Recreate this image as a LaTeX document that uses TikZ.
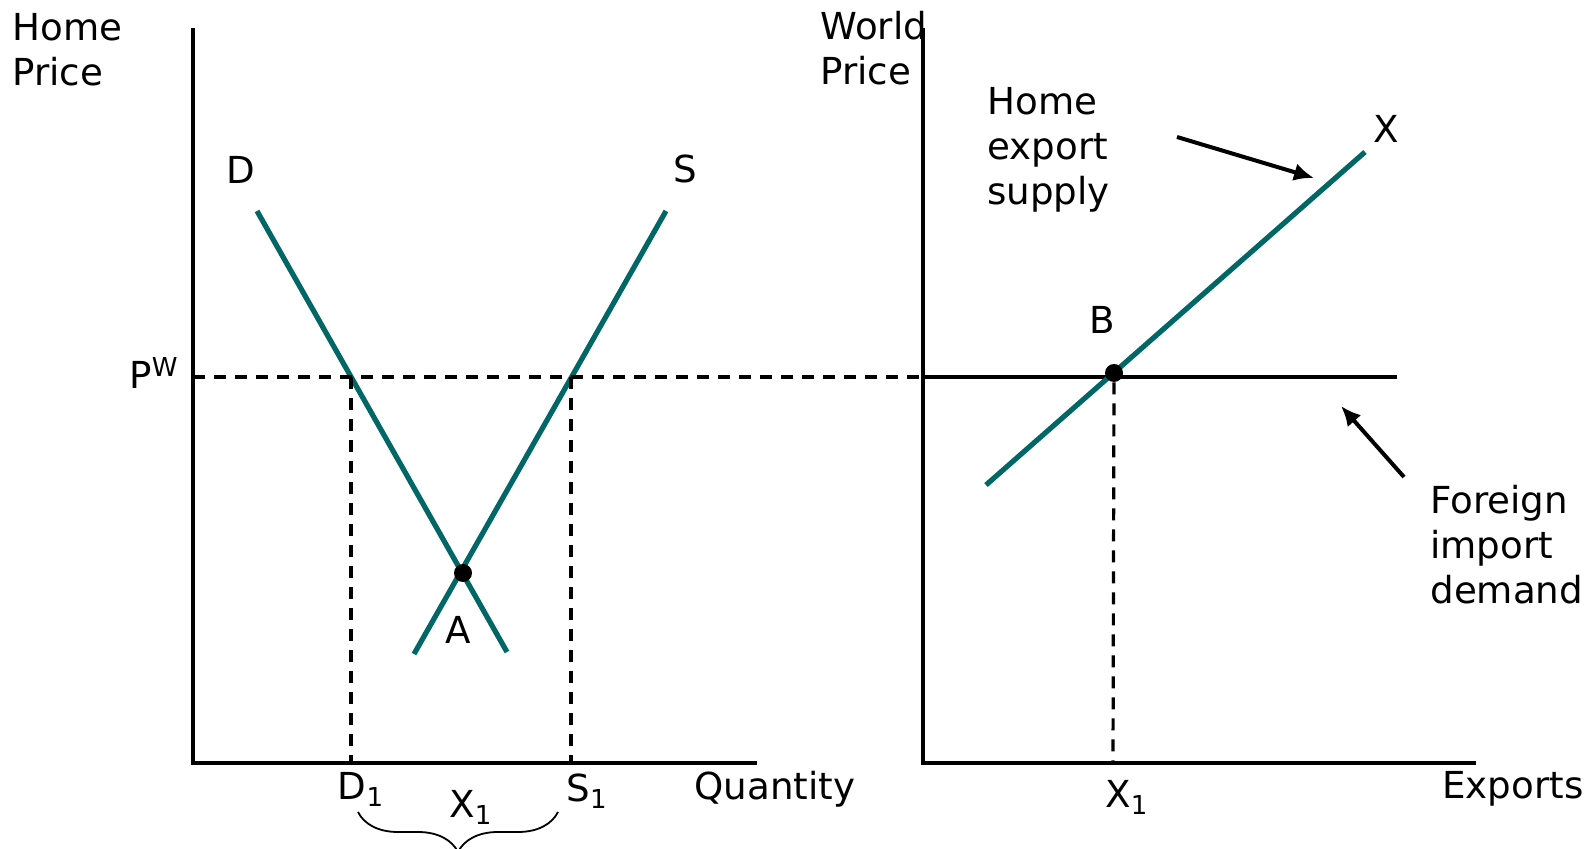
\documentclass[tikz,border=0pt]{standalone}
\usepackage{fontspec}
\setmainfont{DejaVu Sans}
\usetikzlibrary{positioning,arrows.meta,decorations.pathreplacing}
\definecolor{curveteal}{RGB}{0,102,102}

\begin{document}
\begin{tikzpicture}[x=0.5pt, y=-0.5pt, font=\fontsize{18.6}{22.5}\selectfont,
  axis/.style={line width=2pt},
  curve/.style={line width=2.6pt, color=curveteal},
  guide/.style={line width=1.6pt, dash pattern=on 6pt off 4.5pt},
  pointer/.style={line width=2pt, -{Latex[length=10pt,width=9pt]}},
  dot/.style={circle, fill=black, inner sep=0pt, minimum size=9pt},
  lbl/.style={inner sep=0pt}]
  \useasboundingbox (0,0) rectangle (1591,849);

  % left panel: axes
  \coordinate (lo) at (193,763);
  \coordinate (ltop) at (193,28);
  \coordinate (lright) at (757,763);
  \draw[axis] (ltop) -- (lo) -- (lright);
  \node[lbl, align=left, anchor=west] (hprice) at (12,50) {Home\\Price};
  \node[lbl, anchor=west] (quantity) at (694,789) {Quantity};

  % demand and supply
  \coordinate (d0) at (257,211);
  \coordinate (d1) at (507,652);
  \coordinate (s0) at (666,211);
  \coordinate (s1) at (414,654);
  \draw[curve] (d0) -- (d1);
  \draw[curve] (s0) -- (s1);
  \node[lbl] (dlab) at (241,170) {D};
  \node[lbl] (slab) at (685,169) {S};
  \node[dot] (ptA) at (463,573) {};
  \node[lbl] (alab) at (458,630) {A};

  % world price line
  \coordinate (pwl) at (193,377);
  \coordinate (pwr) at (923,377);
  \draw[guide] (pwl) -- (pwr);
  \node[lbl] (pw) at (154,373) {P\textsuperscript{W}};
  \coordinate (dq) at (351,377);
  \coordinate (sq) at (571,377);
  \coordinate (dqb) at (351,763);
  \coordinate (sqb) at (571,763);
  \draw[guide] (dq) -- (dqb);
  \draw[guide] (sq) -- (sqb);
  \node[lbl] (dlab1) at (361,789) {D\textsubscript{1}};
  \node[lbl] (slab1) at (587,791) {S\textsubscript{1}};
  \node[lbl] (xlab1) at (471,807) {X\textsubscript{1}};

  % brace under the export amount
  \coordinate (br0) at (358,812);
  \coordinate (br1) at (558,812);
  \draw[line width=0.9pt, decorate, decoration={brace, mirror, amplitude=20pt}] (br0) -- (br1);

  % right panel: axes
  \coordinate (ro) at (923,763);
  \coordinate (rtop) at (923,28);
  \coordinate (rright) at (1476,763);
  \draw[axis] (rtop) -- (ro) -- (rright);
  \node[lbl, align=left, anchor=west] (wprice) at (820,48) {World\\Price};
  \node[lbl, anchor=east] (exports) at (1584,789) {Exports};

  % foreign demand and home supply
  \coordinate (fd0) at (923,377);
  \coordinate (fd1) at (1397,377);
  \draw[axis] (fd0) -- (fd1);
  \coordinate (xs0) at (986,485);
  \coordinate (xs1) at (1365,152);
  \draw[curve] (xs0) -- (xs1);
  \node[lbl] (xlab) at (1386,129) {X};
  \node[dot] (ptB) at (1114,373) {};
  \node[lbl] (blab) at (1102,320) {B};
  \coordinate (xb) at (1113,763);
  \draw[guide] (ptB) -- (xb);
  \node[lbl] (xlab2) at (1127,797) {X\textsubscript{1}};

  % pointers
  \node[lbl, align=left, anchor=west] (supply) at (987,150) {Home\\export\\supply};
  \node[lbl, align=left, anchor=west] (demand) at (1430,545) {Foreign\\import\\demand};
  \coordinate (ps0) at (1177,137);
  \coordinate (ps1) at (1314,178);
  \coordinate (pd0) at (1404,477);
  \coordinate (pd1) at (1341,406);
  \draw[pointer] (ps0) -- (ps1);
  \draw[pointer] (pd0) -- (pd1);
\end{tikzpicture}
\end{document}
